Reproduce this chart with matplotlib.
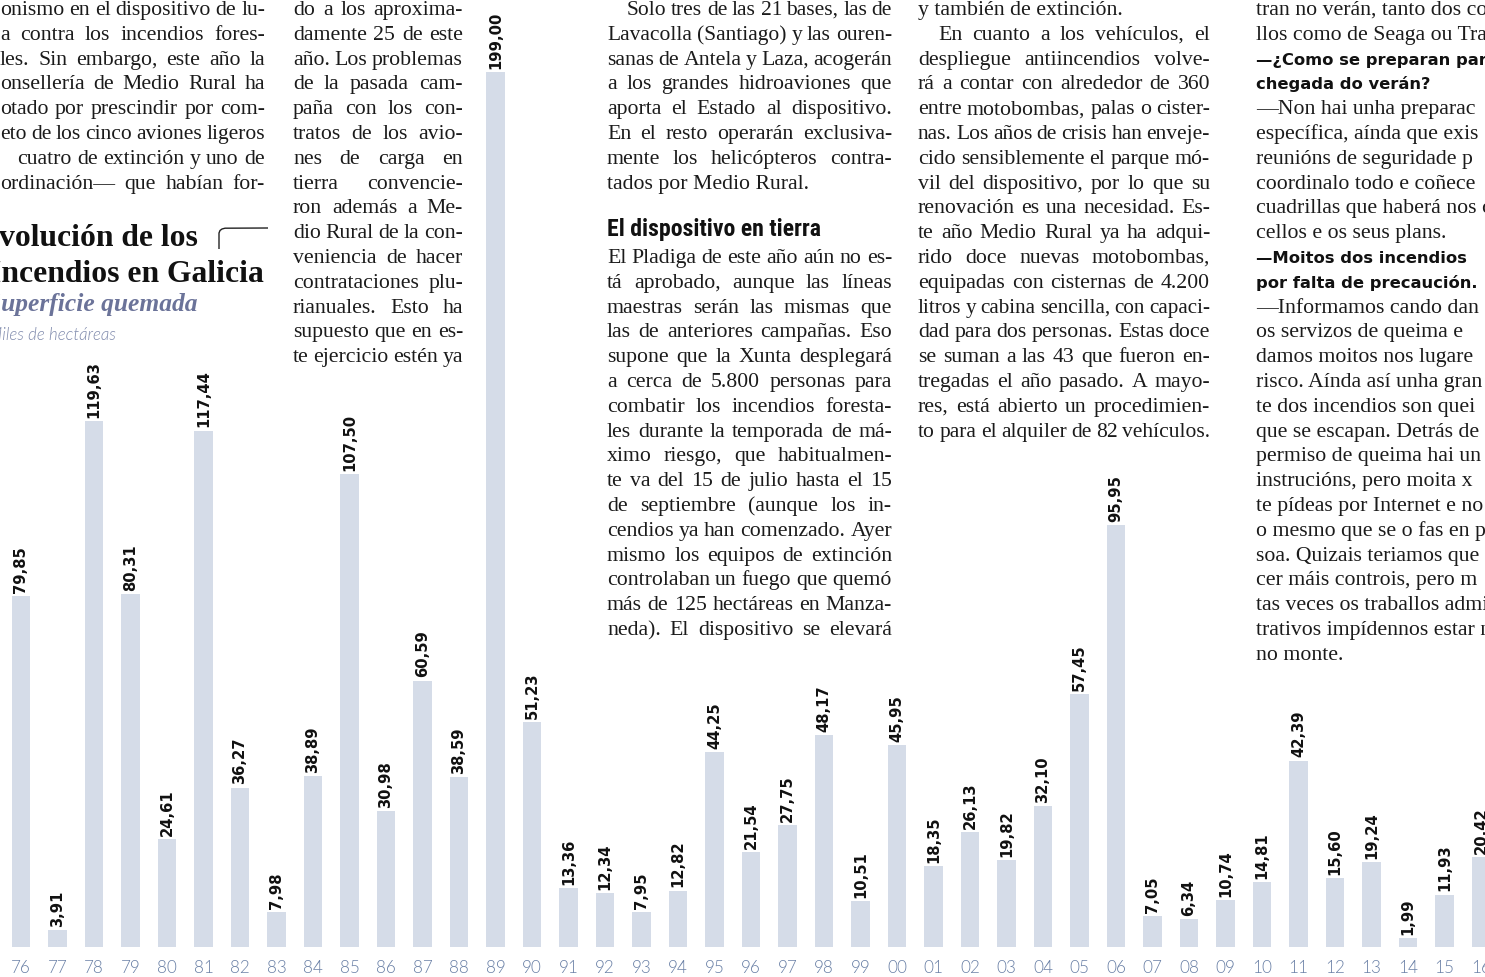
import matplotlib
matplotlib.use("Agg")
import matplotlib.pyplot as plt
from matplotlib.font_manager import FontProperties, findfont

# --- chart data (thousands of hectares burned in Galicia) ---
years = ["76", "77", "78", "79", "80", "81", "82", "83", "84", "85", "86", "87",
         "88", "89", "90", "91", "92", "93", "94", "95", "96", "97", "98", "99",
         "00", "01", "02", "03", "04", "05", "06", "07", "08", "09", "10", "11",
         "12", "13", "14", "15", "16"]
burned = [79.85, 3.91, 119.63, 80.31, 24.61, 117.44, 36.27, 7.98, 38.89, 107.50,
          30.98, 60.59, 38.59, 199.00, 51.23, 13.36, 12.34, 7.95, 12.82, 44.25,
          21.54, 27.75, 48.17, 10.51, 45.95, 18.35, 26.13, 19.82, 32.10, 57.45,
          95.95, 7.05, 6.34, 10.74, 14.81, 42.39, 15.60, 19.24, 1.99, 11.93, 20.42]

title_lines = ["Evolución de los", "Incendios en Galicia"]
subtitle = "Superficie quemada"
units = "Miles de hectáreas"

# --- surrounding page text ---
col1 = ["onismo en el dispositivo de lu-",
        "a contra los incendios fores-",
        "les. Sin embargo, este año la",
        "onsellería de Medio Rural ha",
        "otado por prescindir por com-",
        "eto de los cinco aviones ligeros",
        "cuatro de extinción y uno de",
        "ordinación— que habían for-"]
col2 = ["do a los aproxima-", "damente 25 de este", "año. Los problemas",
        "de la pasada cam-", "paña con los con-", "tratos de los avio-",
        "nes de carga en", "tierra convencie-", "ron además a Me-",
        "dio Rural de la con-", "veniencia de hacer", "contrataciones plu-",
        "rianuales. Esto ha", "supuesto que en es-", "te ejercicio estén ya"]
col3a = ["Solo tres de las 21 bases, las de",
         "Lavacolla (Santiago) y las ouren-",
         "sanas de Antela y Laza, acogerán",
         "a los grandes hidroaviones que",
         "aporta el Estado al dispositivo.",
         "En el resto operarán exclusiva-",
         "mente los helicópteros contra-",
         "tados por Medio Rural."]
col3_head = "El dispositivo en tierra"
col3b = ["El Pladiga de este año aún no es-",
         "tá aprobado, aunque las líneas",
         "maestras serán las mismas que",
         "las de anteriores campañas. Eso",
         "supone que la Xunta desplegará",
         "a cerca de 5.800 personas para",
         "combatir los incendios foresta-",
         "les durante la temporada de má-",
         "ximo riesgo, que habitualmen-",
         "te va del 15 de julio hasta el 15",
         "de septiembre (aunque los in-",
         "cendios ya han comenzado. Ayer",
         "mismo los equipos de extinción",
         "controlaban un fuego que quemó",
         "más de 125 hectáreas en Manza-",
         "neda). El dispositivo se elevará"]
col4 = ["y también de extinción.",
        "En cuanto a los vehículos, el",
        "despliegue antiincendios volve-",
        "rá a contar con alrededor de 360",
        "entre motobombas, palas o cister-",
        "nas. Los años de crisis han enveje-",
        "cido sensiblemente el parque mó-",
        "vil del dispositivo, por lo que su",
        "renovación es una necesidad. Es-",
        "te año Medio Rural ya ha adqui-",
        "rido doce nuevas motobombas,",
        "equipadas con cisternas de 4.200",
        "litros y cabina sencilla, con capaci-",
        "dad para dos personas. Estas doce",
        "se suman a las 43 que fueron en-",
        "tregadas el año pasado. A mayo-",
        "res, está abierto un procedimien-",
        "to para el alquiler de 82 vehículos."]
col5 = ["tran no verán, tanto dos co", "llos como de Seaga ou Tra",
        "—¿Como se preparan par", "chegada do verán?",
        "—Non hai unha preparac", "específica, aínda que exis",
        "reunións de seguridade p", "coordinalo todo e coñece",
        "cuadrillas que haberá nos c", "cellos e os seus plans.",
        "—Moitos dos incendios", "por falta de precaución.",
        "—Informamos cando dan", "os servizos de queima e",
        "damos moitos nos lugare", "risco. Aínda así unha gran",
        "te dos incendios son quei", "que se escapan. Detrás de c",
        "permiso de queima hai un", "instrucións, pero moita x",
        "te pídeas por Internet e no", "o mesmo que se o fas en p",
        "soa. Quizais teriamos que", "cer máis controis, pero m",
        "tas veces os traballos admi", "trativos impídennos estar n",
        "no monte."]
col5_bold = {2, 3, 10, 11}

W, H = 1485, 978
PT = 72 / 100  # px -> pt
BODY = "#1b1b1b"
SERIF = "Liberation Serif"

fig = plt.figure(figsize=(W / 100, H / 100), dpi=100)
fig.patch.set_facecolor("white")

# bar chart: 36.5 px per bar, baseline at y=948 px, 4.397 px per thousand ha
ax = fig.add_axes([0, (H - 948) / H, 1, 948 / H])
ax.set_xlim(-21 / 36.5, (W - 21) / 36.5)
ax.set_ylim(0, 948 / 4.397)
bars = ax.bar(range(len(years)), burned, width=0.51, color="#d5dce8")
ax.bar_label(bars, labels=[f"{v:.2f}".replace(".", ",") for v in burned],
             rotation=90, padding=3, fontsize=10.6, fontweight="bold",
             color="#111111", family="DejaVu Sans")
ax.set_xticks(range(len(years)), years)
ax.tick_params(axis="x", length=0, pad=9, labelsize=12.3, labelcolor="#6a80a6")
for lab in ax.get_xticklabels():
    lab.set_family("Lato")
    lab.set_fontweight(300)
ax.set_yticks([])
for s in ax.spines.values():
    s.set_visible(False)
ax.patch.set_alpha(0)

# overlay in pixel coordinates for the page text
ov = fig.add_axes([0, 0, 1, 1])
ov.set_xlim(0, W)
ov.set_ylim(H, 0)
ov.axis("off")
ov.patch.set_alpha(0)

renderer = fig.canvas.get_renderer()


def text_w(s, prop):
    w, h, d = renderer.get_text_width_height_descent(s, prop, ismath=False)
    return w


def put_line(s, x0, x1, y, px, family=SERIF, weight="normal", color=BODY,
             justify=True, indent=0):
    x0 = x0 + indent
    size = px * PT
    words = s.split(" ")
    if not justify or len(words) < 2:
        prop = FontProperties(family=family, weight=weight, size=size)
        ov.text(x0, y, s, fontproperties=prop, color=color, va="baseline", ha="left")
        return
    while True:
        prop = FontProperties(family=family, weight=weight, size=size)
        ws = [text_w(w, prop) for w in words]
        gap = (x1 - x0 - sum(ws)) / (len(words) - 1)
        if gap >= 0.2 * size / PT or size < 0.8 * px * PT:
            break
        size *= 0.985
    x = x0
    for w, wd in zip(words, ws):
        ov.text(x, y, w, fontproperties=prop, color=color, va="baseline", ha="left")
        x += wd + gap


def row(k):
    return 15 + 24.8 * k


FS = 21.8

# column 1
for k, line in enumerate(col1):
    put_line(line, 17 if k == 6 else 0, 265, row(k), FS)

# column 2
for k, line in enumerate(col2):
    put_line(line, 293, 463, row(k), FS)

# column 3
for k, line in enumerate(col3a):
    put_line(line, 607, 892, row(k), FS, indent=20 if k == 0 else 0,
             justify=k != len(col3a) - 1)
head_family = "DejaVu Sans"
for cand in ["Liberation Sans Narrow", "DejaVu Sans Condensed", "Roboto Condensed"]:
    try:
        findfont(FontProperties(family=cand), fallback_to_default=False)
        head_family = cand
        break
    except Exception:
        pass
hp = FontProperties(family=head_family, weight="bold", size=16)
hsize = 16 * 214 / text_w(col3_head, hp)
ov.text(607, 236, col3_head, family=head_family, weight="bold", size=hsize,
        color="#111111", va="baseline", ha="left")
for k, line in enumerate(col3b):
    put_line(line, 607, 892, row(10 + k), FS)

# column 4
for k, line in enumerate(col4):
    put_line(line, 918, 1210, row(k), FS, indent=20 if k == 1 else 0,
             justify=k != 0)

# column 5 (interview, clipped by the page edge)
for k, line in enumerate(col5):
    if k in col5_bold:
        ov.text(1256, row(k), line, family="DejaVu Sans", weight="bold",
                size=11.8, color="#111111", va="baseline", ha="left")
    else:
        ov.text(1256, row(k), line, family=SERIF, size=FS * PT, color=BODY,
                va="baseline", ha="left")

# chart title block (left edge clipped like the page)
tp = FontProperties(family=SERIF, weight="bold", size=22.8)
ov.text(-text_w("E", tp) - 1, 246, title_lines[0], fontproperties=tp,
        color="#111111", va="baseline", ha="left")
ov.text(-text_w("I", tp) + 1, 282, title_lines[1], fontproperties=tp,
        color="#111111", va="baseline", ha="left")
ov.plot([219, 219, 220, 222, 225, 268], [250, 234, 231.5, 230, 229.2, 229],
        color="#222222", lw=1.0, solid_capstyle="butt")

sp = FontProperties(family=SERIF, weight="bold", style="italic", size=18.4)
ov.text(-text_w("S", sp) + 1, 311, subtitle, fontproperties=sp,
        color="#6b7399", va="baseline", ha="left")
up = FontProperties(family="Lato", style="italic", weight=300, size=12.2)
ov.text(-text_w("M", up) + 2, 340, units, fontproperties=up,
        color="#7d88ab", va="baseline", ha="left")

fig.savefig("out.png", dpi=100)
